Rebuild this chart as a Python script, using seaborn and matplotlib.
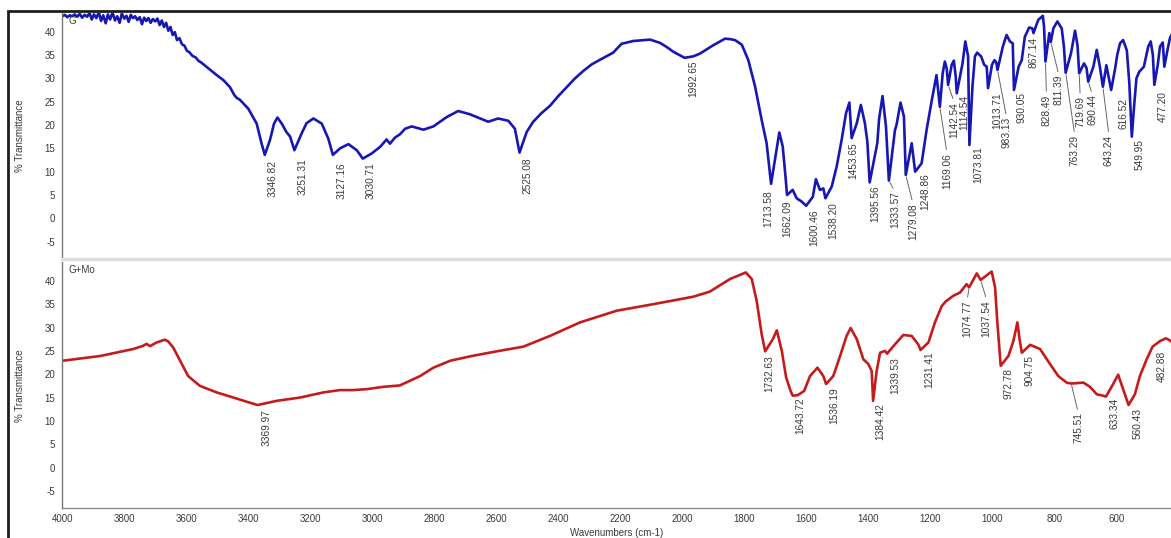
import numpy as np
import pandas as pd
import matplotlib
matplotlib.use("Agg")
import matplotlib.pyplot as plt
from matplotlib.patches import Rectangle
from matplotlib.ticker import MultipleLocator
import seaborn as sns

# ---------------- spectrum G (baseline points, wavenumber / %T) ----------------
g_wn = [4000, 3992, 3984, 3976, 3968, 3960, 3952, 3944, 3936, 3928, 3920, 3912, 3905, 3898,
        3890, 3882, 3875, 3868, 3860, 3853, 3846, 3838, 3830, 3823, 3815, 3808, 3800, 3793,
        3786, 3779, 3772, 3765, 3758, 3750, 3743, 3736, 3729, 3722, 3715, 3708, 3700, 3693,
        3686, 3679, 3672, 3665, 3658, 3651, 3644, 3637, 3630, 3622, 3614, 3606, 3598, 3590,
        3580, 3570, 3560, 3554, 3530, 3502, 3480, 3459, 3445, 3437, 3427, 3400, 3373, 3357,
        3330, 3317, 3306, 3292, 3278, 3265,
        3228, 3212, 3190, 3163, 3142,
        3104, 3077, 3050,
        3002, 2975, 2954, 2943, 2927, 2911, 2894, 2873, 2835, 2803, 2760, 2723, 2685, 2626,
        2594, 2561, 2540,
        2502, 2481, 2455, 2427, 2400, 2373, 2346, 2319, 2292, 2265, 2223, 2196, 2158, 2104,
        2072, 2050, 2029,
        1965, 1943, 1900, 1862, 1846, 1830, 1808, 1787, 1765, 1744, 1728,
        1696, 1687, 1676, 1667,
        1644, 1631, 1615,
        1579, 1569, 1556, 1545,
        1518, 1502, 1486, 1472, 1461,
        1437, 1424, 1411, 1403,
        1371, 1365, 1354, 1343,
        1314, 1309, 1296, 1285,
        1260,
        1228, 1212, 1196, 1180,
        1160, 1153, 1147,
        1131, 1124, 1118,
        1096, 1087, 1078,
        1064, 1056, 1049, 1036, 1026, 1018,
        1001, 993, 987,
        966, 954, 943, 934,
        915, 905, 895, 881, 871,
        852, 837, 833,
        816,
        803, 790, 776, 769,
        746, 733, 725,
        704, 696,
        674, 663, 653,
        632,
        604, 597, 588, 578, 566, 558,
        542, 535, 526, 511, 497, 489, 482,
        466, 459, 450, 445, 435, 427, 420]
g_t = [43.3, 43.6, 43.1, 43.5, 43.3, 43.7, 43.2, 43.8, 43.0, 43.6, 43.2, 44.0, 42.6, 43.7,
       42.9, 44.2, 42.3, 43.5, 41.8, 43.7, 42.6, 44.1, 42.4, 43.3, 41.9, 43.9, 42.8, 43.4,
       42.1, 43.6, 42.9, 43.3, 42.5, 43.1, 41.6, 43.0, 42.3, 42.9, 41.9, 42.7, 42.2, 42.8,
       41.4, 42.4, 41.0, 41.9, 40.2, 41.0, 39.3, 39.9, 38.2, 38.6, 37.3, 37.0, 35.9, 35.6,
       34.8, 34.5, 33.7, 33.5, 32.2, 30.7, 29.6, 28.1, 26.4, 25.8, 25.4, 23.5, 20.3, 16.0,
       16.8, 20.3, 21.6, 20.3, 18.6, 17.5,
       18.2, 20.4, 21.4, 20.3, 17.1,
       15.0, 15.9, 14.6,
       13.9, 15.3, 16.9, 16.0, 17.3, 18.0, 19.2, 19.7, 19.0, 19.7, 21.7, 23.0, 22.3, 20.7,
       21.4, 20.9, 19.2,
       18.5, 20.7, 22.5, 24.1, 26.2, 28.1, 30.0, 31.6, 33.0, 34.0, 35.5, 37.4, 38.0, 38.3,
       37.6, 36.7, 35.7,
       34.7, 35.3, 37.1, 38.5, 38.4, 38.2, 37.2, 33.9, 28.2, 21.1, 16.1,
       14.7, 18.4, 15.4, 8.9,
       6.1, 4.3, 3.6,
       4.6, 8.4, 6.1, 6.4,
       6.8, 11.1, 16.8, 22.5, 24.8,
       20.4, 24.3, 20.4, 16.4,
       16.1, 21.4, 26.2, 19.7,
       18.9, 20.0, 24.8, 21.8,
       16.1,
       11.8, 18.9, 25.0, 30.7,
       31.1, 33.6, 32.1,
       32.9, 33.8, 30.4,
       33.2, 37.9, 34.7,
       28.2, 34.7, 35.5, 34.7, 32.9, 32.5,
       32.9, 33.9, 33.4,
       36.8, 39.3, 37.9, 37.5,
       32.5, 33.9, 38.9, 40.9, 40.7,
       42.5, 43.4, 41.0,
       39.7,
       40.7, 42.2, 40.7, 36.8,
       35.4, 40.2, 37.0,
       33.2, 32.2,
       32.5, 36.1, 32.5,
       32.8,
       32.0, 35.0, 37.5, 38.2, 36.0, 29.0,
       24.5, 30.0, 31.4, 32.5, 36.8, 37.9, 35.0,
       33.0, 36.8, 37.7, 32.5, 36.0, 38.6, 39.5]

# labelled band minima of G
g_peak_wn = [3346.82, 3251.31, 3127.16, 3030.71, 2525.08, 1992.65, 1713.58, 1662.09,
             1600.46, 1538.20, 1453.65, 1395.56, 1333.57, 1279.08, 1248.86, 1169.06,
             1142.54, 1114.54, 1073.81, 1013.71, 983.13, 930.05, 867.14, 828.49,
             811.39, 763.29, 719.69, 690.44, 643.24, 616.52, 549.95, 477.20]
g_peak_t = [13.6, 14.6, 13.6, 12.8, 14.1, 34.4, 7.4, 5.0,
            2.7, 4.3, 17.2, 7.7, 8.1, 9.3, 10.0, 23.9,
            28.6, 26.8, 15.7, 27.9, 31.8, 27.5, 39.7, 33.6,
            37.8, 31.2, 31.1, 29.3, 28.2, 27.5, 17.5, 28.6]

# ---------------- spectrum G+Mo ----------------
m_wn = [3997, 3878, 3771, 3739, 3728, 3717, 3696, 3669, 3658, 3642, 3620, 3594, 3556, 3502,
        3448, 3405,
        3308, 3233, 3158, 3104, 3061, 3018, 2964, 2911, 2846, 2803, 2748, 2679, 2599, 2513,
        2427, 2330, 2212, 2094, 1965, 1911, 1846, 1795, 1776, 1760, 1744,
        1708, 1695, 1679, 1665, 1650,
        1628, 1607, 1588, 1564, 1545,
        1513, 1491, 1470, 1457, 1437, 1416, 1400, 1389,
        1373, 1362, 1346,
        1314, 1287, 1260, 1239,
        1206, 1185, 1163, 1150, 1126, 1104, 1083,
        1050,
        1002, 991, 984,
        948, 932, 919, 912,
        878, 846, 814, 787, 760,
        706, 685, 663, 642,
        610, 594, 578,
        540, 524, 502,
        459, 440, 424, 420]
m_t = [22.9, 23.9, 25.4, 26.1, 26.5, 26.0, 26.8, 27.4, 27.0, 25.7, 22.9, 19.6, 17.5, 16.1,
       15.0, 14.1,
       14.3, 15.0, 16.1, 16.6, 16.6, 16.8, 17.3, 17.6, 19.6, 21.4, 22.9, 23.9, 24.9, 25.9,
       28.2, 31.1, 33.6, 35.0, 36.6, 37.7, 40.4, 41.8, 40.4, 35.7, 28.6,
       27.5, 29.4, 25.0, 19.3, 16.3,
       15.5, 16.4, 19.6, 21.4, 19.6,
       19.6, 23.9, 28.2, 29.9, 27.5, 23.2, 22.2, 20.7,
       20.7, 24.6, 25.0,
       26.4, 28.4, 28.2, 26.4,
       26.8, 31.1, 34.6, 35.6, 36.8, 37.5, 39.3,
       41.6,
       42.0, 38.6, 31.4,
       23.9, 27.1, 31.1, 27.5,
       26.3, 25.4, 22.2, 19.6, 18.2,
       18.2, 17.3, 15.7, 15.4,
       17.9, 19.9, 16.8,
       15.7, 19.6, 23.2,
       27.1, 27.7, 27.1, 26.8]

m_peak_wn = [3369.97, 1732.63, 1643.72, 1536.19, 1384.42, 1339.53, 1231.41, 1074.77,
             1037.54, 972.78, 904.75, 745.51, 633.34, 560.43, 482.88]
m_peak_t = [13.4, 24.9, 15.4, 17.9, 14.3, 24.4, 25.2, 38.6,
            40.2, 21.8, 24.6, 18.0, 15.2, 13.4, 25.9]

# placement of the peak captions (pixels right of / below each minimum)
g_label_offsets = [(8, 5), (8, 8), (9, 7), (8, 4), (8, 5), (9, 3), (-3, 6), (0, 5),
                   (8, 4), (8, 4), (2, 4), (6, 3), (6, 11), (7, 28), (10, 2), (7, 46),
                   (6, 17), (7, 2), (9, 1), (9, 4), (9, 47), (8, 2), (0, 4), (1, 33),
                   (8, 33), (9, 62), (1, 23), (4, 13), (6, 48), (12, 8), (8, 2), (8, 6)]
m_label_offsets = [(9, 4), (4, 4), (8, 2), (8, 3), (7, 2), (8, 3), (9, 1), (-2, 13),
                   (6, 20), (8, 2), (8, 2), (7, 29), (9, 1), (9, 3), (9, 4)]

x_ticks = [4000, 3800, 3600, 3400, 3200, 3000, 2800, 2600, 2400, 2200, 2000,
           1800, 1600, 1400, 1200, 1000, 800, 600]
y_ticks = [-5, 0, 5, 10, 15, 20, 25, 30, 35, 40]

BLUE = "#1717b3"
RED = "#c41c1c"
TXT = "#3a3a3a"

sns.set_style("white")
plt.rcParams["font.family"] = ["Liberation Sans", "DejaVu Sans"]
plt.rcParams["axes.unicode_minus"] = False

W, H = 1171, 538
fig = plt.figure(figsize=(W / 100, H / 100), dpi=100)
fig.patch.set_facecolor("white")

left = 62.3 / W
width = 1.0 - left
ph = 246.2 / H
ax_top = fig.add_axes([left, (H - 259.2) / H, width, ph])
ax_bot = fig.add_axes([left, (H - 508.4) / H, width, ph])


def spectrum_frame(wn, t, pk_wn, pk_t):
    df = pd.DataFrame({"wn": list(wn) + list(pk_wn), "T": list(t) + list(pk_t)})
    return df.sort_values("wn").reset_index(drop=True)


def draw_panel(ax, df, color, pk_wn, pk_t, offsets, name, show_x):
    sns.lineplot(data=df, x="wn", y="T", ax=ax, color=color, linewidth=1.9,
                 estimator=None, sort=True, solid_joinstyle="round")
    ax.set_xlim(4000, 423.5)
    ax.set_ylim(-8.75, 44.0)
    ax.set_yticks(y_ticks)
    ax.yaxis.set_minor_locator(MultipleLocator(1))
    ax.tick_params(axis="y", which="major", direction="out", length=3, width=0.8,
                   color="#777777", labelsize=7, labelcolor=TXT, pad=2)
    ax.tick_params(axis="y", which="minor", direction="out", length=1.5, width=0.6,
                   color="#888888")
    ax.set_ylabel("% Transmittance", fontsize=7, color=TXT)
    ax.yaxis.set_label_coords(-0.0336, 0.5)
    for s in ("top", "right"):
        ax.spines[s].set_visible(False)
    ax.spines["left"].set_color("#777777")
    ax.spines["left"].set_linestyle((0, (1, 1)))
    ax.spines["left"].set_linewidth(1.0)
    if show_x:
        ax.set_xticks(x_ticks)
        ax.xaxis.set_minor_locator(MultipleLocator(50))
        ax.tick_params(axis="x", which="major", direction="inout", length=4, width=0.8,
                       color="#777777", labelsize=7, labelcolor=TXT, pad=2)
        ax.tick_params(axis="x", which="minor", direction="inout", length=3, width=0.6,
                       color="#888888")
        ax.spines["bottom"].set_color("#8a8a8a")
        ax.spines["bottom"].set_linewidth(1.0)
        ax.set_xlabel("Wavenumbers (cm-1)", fontsize=7, color=TXT, labelpad=3)
    else:
        ax.set_xticks([])
        ax.set_xlabel("")
        ax.spines["bottom"].set_color("#dedede")
        ax.spines["bottom"].set_linewidth(2.5)

    ax.annotate(name, xy=(0, 1), xycoords="axes fraction", xytext=(6, -3),
                textcoords="offset pixels", ha="left", va="top", fontsize=7, color=TXT)

    for wn, t, (dx, dy) in zip(pk_wn, pk_t, offsets):
        arrow = None
        if dy > 9:
            arrow = dict(arrowstyle="-", color="#666666", lw=0.7, shrinkA=0, shrinkB=1.5,
                         relpos=(0.5, 1.0))
        ax.annotate(f"{wn:.2f}", xy=(wn, t), xycoords="data", xytext=(dx, -dy),
                    textcoords="offset pixels", rotation=90, ha="center", va="top",
                    fontsize=7.3, color=TXT, arrowprops=arrow, annotation_clip=False)


g_df = spectrum_frame(g_wn, g_t, g_peak_wn, g_peak_t)
m_df = spectrum_frame(m_wn, m_t, m_peak_wn, m_peak_t)

draw_panel(ax_top, g_df, BLUE, g_peak_wn, g_peak_t, g_label_offsets, "G", False)
draw_panel(ax_bot, m_df, RED, m_peak_wn, m_peak_t, m_label_offsets, "G+Mo", True)

# outer frame around the spectra window
fig.add_artist(Rectangle((8 / W, -0.05), 1.2, (H - 11) / H + 0.05, transform=fig.transFigure,
                         fill=False, edgecolor="#1e1e1e", linewidth=2.0, clip_on=False))

fig.savefig("out.png", dpi=100, facecolor="white")
